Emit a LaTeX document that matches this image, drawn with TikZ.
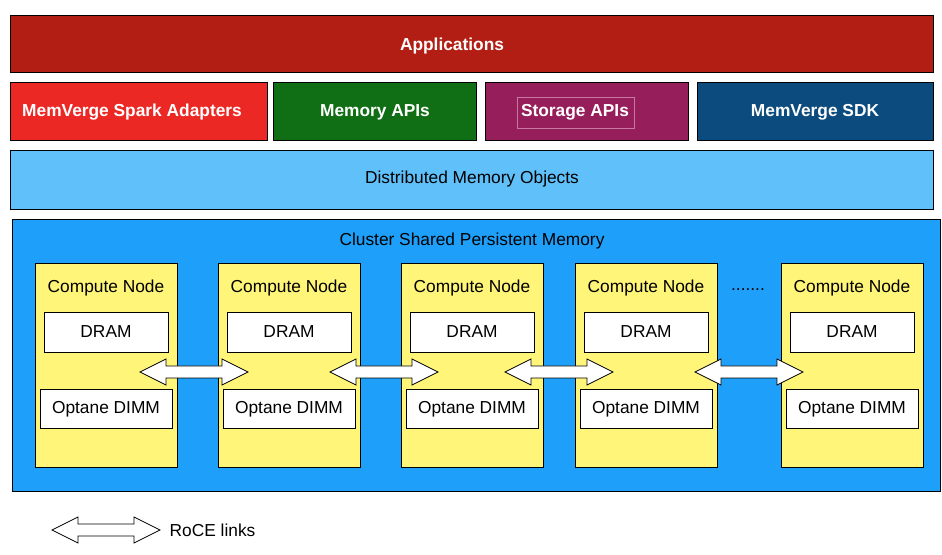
\documentclass[tikz,border=0pt]{standalone}
\usepackage{fontspec}
\setmainfont{Liberation Sans}
\begin{document}
\begin{tikzpicture}[x=0.75pt,y=-0.75pt,
  box/.style={draw=black,line width=0.6pt},
  lbl/.style={font=\fontsize{13}{15}\selectfont},
  blbl/.style={font=\bfseries\fontsize{13}{15}\selectfont,text=white},
  dbl/.pic={\draw[black,fill=white,line width=0.6pt] (0,0)--(26,-13)--(26,-6)--(82,-6)--(82,-13)--(108,0)--(82,13)--(82,6)--(26,6)--(26,13)--cycle;}]
\definecolor{appred}{RGB}{178,30,20}
\definecolor{sparkred}{RGB}{236,40,36}
\definecolor{memgreen}{RGB}{16,110,20}
\definecolor{storpurple}{RGB}{150,30,90}
\definecolor{sdkblue}{RGB}{12,75,125}
\definecolor{dmo}{RGB}{95,192,250}
\definecolor{cluster}{RGB}{30,160,250}
\definecolor{cnode}{RGB}{255,245,120}
\useasboundingbox[fill=white] (0,0) rectangle (942,555);
\draw[box,fill=appred] (10,15) rectangle (933,72);
\node[blbl] (app) at (452,46) {Applications};
\draw[box,fill=sparkred] (10,82) rectangle (267,140);
\node[blbl] (spark) at (132,112) {MemVerge Spark Adapters};
\draw[box,fill=memgreen] (273,82) rectangle (476,140);
\node[blbl] (mapi) at (375,112) {Memory APIs};
\draw[box,fill=storpurple] (485,82) rectangle (688,140);
\draw[draw={rgb,255:red,200;green,120;blue,160},line width=0.4pt] (517,97) rectangle (634,128);
\node[blbl] (sapi) at (575,112) {Storage APIs};
\draw[box,fill=sdkblue] (697,82) rectangle (933,140);
\node[blbl] (sdk) at (815,112) {MemVerge SDK};
\draw[box,fill=dmo] (10,150) rectangle (933,209);
\node[lbl] (dmot) at (472,179) {Distributed Memory Objects};
\draw[box,fill=cluster] (12,219) rectangle (940,491);
\node[lbl] (cl) at (472,241) {Cluster Shared Persistent Memory};
\foreach \x [count=\i] in {35,218,401,575,781}{
  \draw[box,fill=cnode] (\x,263) rectangle ++(142,204);
  \node[lbl] (cn\i) at (\x+71,288) {Compute Node};
  \draw[box,fill=white] (\x+9,312) rectangle ++(124,40);
  \node[lbl] (dr\i) at (\x+71,332) {DRAM};
  \draw[box,fill=white] (\x+5,389) rectangle ++(132,39);
  \node[lbl] (op\i) at (\x+71,409) {Optane DIMM};
}
\node[lbl] (dots) at (748,290) {.......};
\foreach \x in {140,330,505,695}{ \pic at (\x,372) {dbl}; }
\pic at (52,530) {dbl};
\node[lbl,anchor=west] (roce) at (165,530) {RoCE links};
\end{tikzpicture}
\end{document}
